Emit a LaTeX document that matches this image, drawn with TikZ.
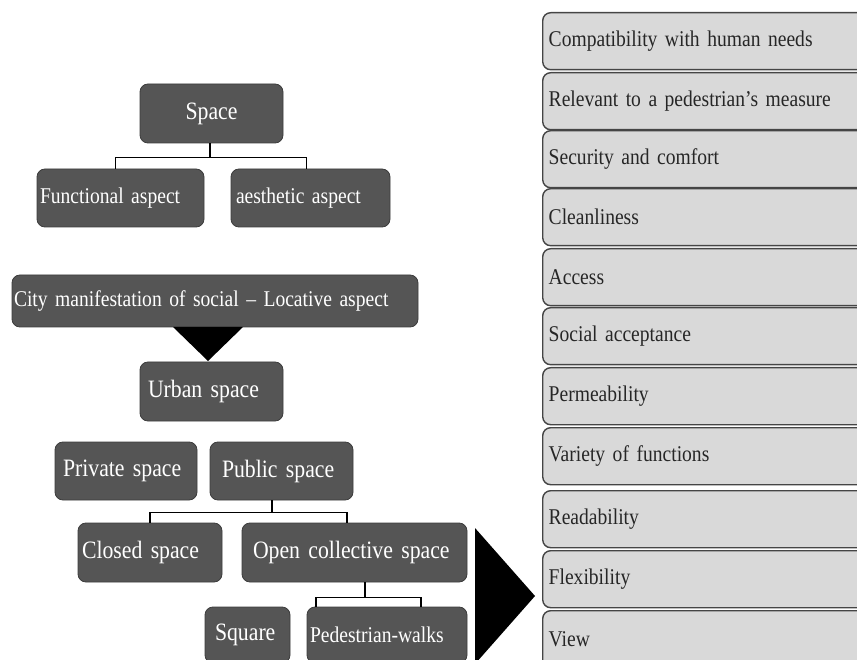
\documentclass[tikz,border=0pt]{standalone}
\usepackage{fontspec}
\setmainfont{Liberation Serif}[FakeStretch=0.87, WordSpace=0.6]
\definecolor{dk}{HTML}{555555}
\definecolor{dkb}{HTML}{3C3C3C}
\definecolor{lt}{HTML}{D9D9D9}
\definecolor{ltb}{HTML}{454545}
\definecolor{txt}{HTML}{262626}
\begin{document}
\begin{tikzpicture}[x=1pt,y=-1pt,
  dbox/.style={draw=dkb, line width=0.8pt, fill=dk, rounded corners=8pt, text=white,
    inner ysep=0pt, align=left, font=\fontsize{22.5}{26}\selectfont},
  bigtxt/.style={font=\fontsize{25}{28}\selectfont},
  rbox/.style={draw=ltb, line width=1.4pt, fill=lt, rounded corners=8pt, text=txt,
    anchor=north west, minimum height=57pt, text width=330pt, align=left,
    inner xsep=6pt, inner ysep=0pt, font=\fontsize{22.5}{26}\selectfont},
  conn/.style={draw=black, line width=1.5pt},
  tri/.style={fill=black}]
\useasboundingbox (0,0) rectangle (857,660);
\clip (0,0) rectangle (857,660);

% left hierarchy
\node[dbox, bigtxt, minimum height=59pt, text width=143pt, inner xsep=0pt, align=center] (space) at (211.5,113.5) {Space};
\node[dbox, minimum height=58pt, text width=161pt, inner xsep=3pt] (func) at (120.5,198) {Functional aspect};
\node[dbox, minimum height=58pt, text width=149pt, inner xsep=5pt] (aes) at (310.5,198) {aesthetic aspect};
\node[dbox, minimum height=52pt, text width=402pt, inner xsep=2pt] (city) at (215,301) {City manifestation of social -- Locative aspect};
\node[dbox, bigtxt, minimum height=59pt, text width=127pt, inner xsep=8pt] (urban) at (211.5,391.5) {Urban space};
\node[dbox, bigtxt, minimum height=58pt, text width=126pt, inner xsep=8pt] (private) at (126,471) {Private space};
\node[dbox, bigtxt, minimum height=58pt, text width=119pt, inner xsep=12pt] (public) at (281.5,471) {Public space};
\node[dbox, bigtxt, minimum height=59pt, text width=136pt, inner xsep=4pt] (closed) at (150,552.5) {Closed space};
\node[dbox, bigtxt, minimum height=59pt, text width=203pt, inner xsep=11pt] (open) at (354.5,552.5) {Open collective space};
\node[dbox, bigtxt, minimum height=56pt, text width=65pt, inner xsep=10pt] (square) at (247.5,635) {Square};
\node[dbox, minimum height=56pt, text width=154pt, inner xsep=3pt] (ped) at (387,635) {Pedestrian-walks};

% connectors
\coordinate (j1) at ([xshift=-1.5pt,yshift=-14pt]space.south);
\draw[conn] ([xshift=-1.5pt]space.south) -- (j1);
\draw[conn] ([xshift=-5pt]func.north) |- (j1) -| ([xshift=-4pt]aes.north);
\coordinate (j2) at ([xshift=-9.5pt,yshift=-12pt]public.south);
\draw[conn] ([xshift=-9.5pt]public.south) -- (j2);
\draw[conn] (closed.north) |- (j2) -| ([xshift=-7.5pt]open.north);
\coordinate (j3) at ([xshift=10.5pt,yshift=-15pt]open.south);
\draw[conn] ([xshift=10.5pt]open.south) -- (j3);
\draw[conn] ([xshift=-71pt]ped.north) |- (j3) -| ([xshift=34pt]ped.north);

% arrow triangles
\coordinate (ta) at (173,327);
\coordinate (tb) at (243,327);
\coordinate (tc) at (208,361);
\fill[tri] (ta) -- (tb) -- (tc) -- cycle;
\coordinate (ba) at (475,528);
\coordinate (bb) at (475,664);
\coordinate (bc) at (535,596);
\fill[tri] (ba) -- (bc) -- (bb) -- cycle;

% right column
\foreach \t/\s [count=\i] in {12/Compatibility with human needs,
  72/Relevant to a pedestrian's measure,
  130/Security and comfort,
  188/Cleanliness,
  248/Access,
  307/Social acceptance,
  367/Permeability,
  427/Variety of functions,
  490/Readability,
  550/Flexibility,
  610/View}
  \node[rbox] (r\i) at (542,\t) {\s};
\end{tikzpicture}
\end{document}
